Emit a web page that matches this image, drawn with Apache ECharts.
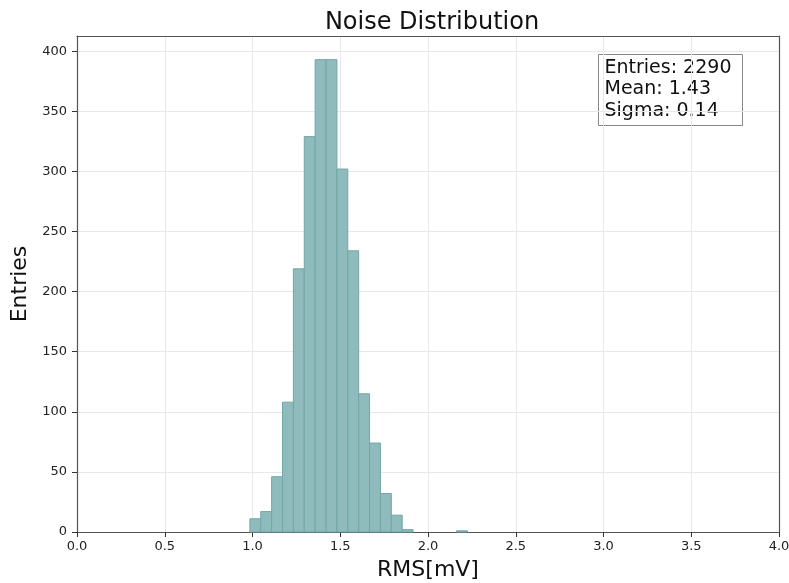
<!DOCTYPE html>
<html>
<head>
<meta charset="utf-8">
<script src="https://cdn.jsdelivr.net/npm/echarts@6/dist/echarts.min.js"></script>
<style>html,body{margin:0;padding:0;background:#fff}#c{width:789px;height:583px}</style>
</head>
<body>
<div id="c"></div>
<script>
// Histogram: 20 bins from 0.985 to 2.225 (width 0.062)
const binStart = 0.985;
const binWidth = 0.062;
const counts = [11, 17, 46, 108, 219, 329, 393, 393, 302, 234, 115, 74, 32, 14, 2, 0, 0, 0, 0, 1];
const xTicks = [0.0, 0.5, 1.0, 1.5, 2.0, 2.5, 3.0, 3.5, 4.0];
const yTicks = [0, 50, 100, 150, 200, 250, 300, 350, 400];
const statsLines = ['Entries: 2290', 'Mean: 1.43', 'Sigma: 0.14'];

const data = counts.map((c, i) => [binStart + i * binWidth, binStart + (i + 1) * binWidth, c]);
const font = 'DejaVu Sans';
const yMax = 412.7;

const frameAxis = {
  axisLine: {show: true, onZero: false, lineStyle: {color: '#555', width: 1.2}},
  axisTick: {show: false}, axisLabel: {show: false}, splitLine: {show: false}
};

const chart = echarts.init(document.getElementById('c'), null, {renderer: 'canvas'});
chart.setOption({
  animation: false,
  backgroundColor: '#fff',
  title: {
    text: 'Noise Distribution',
    left: 427, top: 6, textAlign: 'center',
    textStyle: {fontFamily: font, fontSize: 24, fontWeight: 'normal', color: '#111'}
  },
  grid: {left: 77, right: 10, top: 36, bottom: 51, containLabel: false, outerBoundsMode: 'none'},
  xAxis: [{
    type: 'value', min: 0, max: 4, interval: 0.5, position: 'bottom',
    name: 'RMS[mV]', nameLocation: 'middle', nameGap: 27,
    nameTextStyle: {fontFamily: font, fontSize: 22, color: '#111'},
    axisLine: {show: true, onZero: false, lineStyle: {color: '#555', width: 1.2}},
    axisTick: {show: true, inside: false, length: 5, lineStyle: {color: '#333'}},
    axisLabel: {fontFamily: font, fontSize: 13, color: '#222', margin: 8,
      formatter: v => Number(v).toFixed(1)},
    splitLine: {show: true, lineStyle: {color: '#e8e8e8'}}
  }, Object.assign({type: 'value', min: 0, max: 4, position: 'top'}, frameAxis)],
  yAxis: [{
    type: 'value', min: 0, max: yMax, interval: 50, position: 'left',
    name: 'Entries', nameLocation: 'middle', nameGap: 42, nameRotate: 90,
    nameTextStyle: {fontFamily: font, fontSize: 22, color: '#111'},
    axisLine: {show: true, onZero: false, lineStyle: {color: '#555', width: 1.2}},
    axisTick: {show: true, inside: false, length: 5, lineStyle: {color: '#333'}},
    axisLabel: {fontFamily: font, fontSize: 13, color: '#222', margin: 10,
      showMaxLabel: false,
      formatter: v => yTicks.indexOf(v) >= 0 ? String(v) : ''},
    splitLine: {show: true, lineStyle: {color: '#e8e8e8'}}
  }, Object.assign({type: 'value', min: 0, max: yMax, position: 'right'}, frameAxis)],
  series: [{
    type: 'custom',
    xAxisIndex: 0, yAxisIndex: 0,
    data: data,
    encode: {x: [0, 1], y: 2},
    renderItem: function (params, api) {
      const x0 = api.value(0), x1 = api.value(1), c = api.value(2);
      if (c <= 0) return null;
      const p0 = api.coord([x0, 0]);
      const p1 = api.coord([x1, c]);
      return {
        type: 'rect',
        shape: {x: p0[0], y: p1[1], width: p1[0] - p0[0], height: p0[1] - p1[1]},
        style: {fill: '#8fbbbc', stroke: '#72a6a8', lineWidth: 1}
      };
    }
  }],
  graphic: [{
    type: 'group', left: 598, top: 54,
    children: [{
      type: 'rect', shape: {x: 0, y: 0, width: 144, height: 71},
      style: {fill: '#fff', stroke: '#888', lineWidth: 1}
    }].concat(statsLines.map((t, i) => ({
      type: 'text', x: 6, y: 4 + i * 21.5,
      style: {text: t, fontFamily: font, fontSize: 19, fill: '#111', verticalAlign: 'top'}
    })))
  }]
});
</script>
</body>
</html>
